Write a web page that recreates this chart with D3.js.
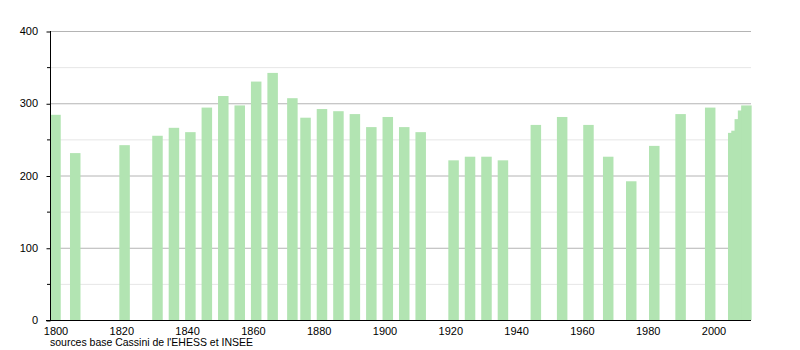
<!DOCTYPE html>
<html>
<head>
<meta charset="utf-8">
<script src="https://cdn.jsdelivr.net/npm/d3@7"></script>
<style>
  body { margin: 0; background: #fff; }
  svg { font-family: "Liberation Sans", Arial, sans-serif; }
</style>
</head>
<body>
<svg class="chart" width="800" height="350"></svg>
<script>
// census years and population
let years = [1800, 1806, 1821, 1831, 1836, 1841, 1846, 1851, 1856, 1861, 1866,
  1872, 1876, 1881, 1886, 1891, 1896, 1901, 1906, 1911, 1921, 1926, 1931, 1936,
  1946, 1954, 1962, 1968, 1975, 1982, 1990, 1999, 2006, 2007, 2008, 2009, 2010];
let population = [284, 231, 242, 255, 266, 260, 294, 310, 297, 330, 342,
  307, 280, 292, 289, 285, 267, 281, 267, 260, 221, 226, 226, 221,
  270, 281, 270, 226, 192, 241, 285, 294, 259, 262, 278, 290, 297];
let xTicks = [1800, 1820, 1840, 1860, 1880, 1900, 1920, 1940, 1960, 1980, 2000];
let yTicks = [0, 100, 200, 300, 400];
let yMinor = [50, 150, 250, 350];

let svg = d3.select("body").select(".chart");
let margin = { top: 31, left: 50, right: 49, bottom: 30 };
let plotWidth = 800 - margin.left - margin.right;
let plotHeight = 289;

let x = d3.scaleLinear().domain([1798.33, 2011.4]).range([0, plotWidth]);
let y = d3.scaleLinear().domain([0, 400]).range([plotHeight, 0]);
let barWidth = 10.5;

let plot = svg.append("g").attr("transform", translate(margin.left, margin.top));

// gridlines
plot.selectAll(".minor").data(yMinor).join("line")
  .attr("x1", 0).attr("x2", plotWidth)
  .attr("y1", d => y(d) + 0.5).attr("y2", d => y(d) + 0.5)
  .attr("stroke", "#e6e6e6");
plot.selectAll(".major").data(yTicks.slice(1)).join("line")
  .attr("x1", 0).attr("x2", plotWidth)
  .attr("y1", d => y(d) + 0.5).attr("y2", d => y(d) + 0.5)
  .attr("stroke", "#b4b4b4");

// bars
plot.selectAll("rect").data(years).join("rect")
  .attr("x", d => x(d) - barWidth / 2)
  .attr("width", barWidth)
  .attr("y", (d, i) => y(population[i]))
  .attr("height", (d, i) => y(0) - y(population[i]))
  .attr("fill", "#b2e4b2");

// y axis
let yAxis = d3.axisLeft(y).tickValues(yTicks).tickSize(4).tickPadding(8);
let yGroup = plot.append("g").call(yAxis);
yGroup.select(".domain").attr("d", "M0.5,0V" + (plotHeight + 0.5));
yGroup.selectAll("line").attr("transform", "translate(0.5,0.5)");
plot.selectAll(".ytick-minor").data(yMinor).join("line")
  .attr("x1", -3).attr("x2", 0)
  .attr("y1", d => y(d) + 0.5).attr("y2", d => y(d) + 0.5)
  .attr("stroke", "#000");

// x axis
let xAxis = d3.axisBottom(x).tickValues(xTicks).tickSize(0).tickPadding(7).tickFormat(d3.format("d"));
let xGroup = plot.append("g").attr("transform", translate(0, plotHeight)).call(xAxis);
xGroup.select(".domain").attr("d", "M-4,0.5H" + plotWidth);

svg.selectAll(".tick text").attr("font-size", 11).attr("fill", "#000")
  .attr("font-family", "Liberation Sans, Arial, sans-serif");

svg.append("text")
  .attr("x", 50).attr("y", 346)
  .attr("font-size", 10.5)
  .attr("textLength", 203)
  .text("sources base Cassini de l'EHESS et INSEE");

function translate(x, y) {
  return 'translate(' + x + ',' + y + ')';
}
</script>
</body>
</html>
